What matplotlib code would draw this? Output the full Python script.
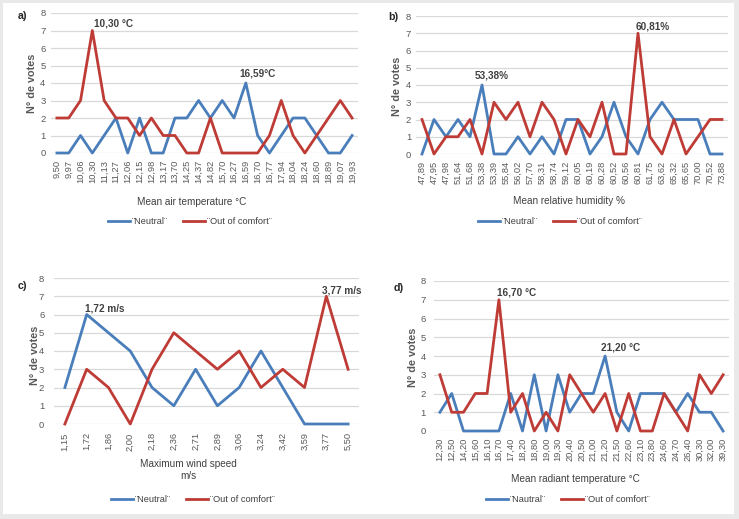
import matplotlib
matplotlib.use("Agg")
import matplotlib.pyplot as plt
from matplotlib import font_manager
from matplotlib.patches import Rectangle

names = {f.name for f in font_manager.fontManager.ttflist}
NARROW = 'Liberation Sans Narrow' if 'Liberation Sans Narrow' in names else 'Liberation Sans'
SC = 1.0 if NARROW == 'Liberation Sans Narrow' else 0.85
FAM = [NARROW, 'DejaVu Sans']

# ---------------- data ----------------
air_cats = ["9,50", "9,97", "10,06", "10,30", "11,13", "11,27", "12,06", "12,15", "12,98",
            "13,17", "13,70", "14,25", "14,37", "14,82", "15,70", "16,27", "16,59", "16,70",
            "16,77", "17,94", "18,04", "18,24", "18,60", "18,89", "19,07", "19,93"]
air_neutral = [0, 0, 1, 0, 1, 2, 0, 2, 0, 0, 2, 2, 3, 2, 3, 2, 4, 1, 0, 1, 2, 2, 1, 0, 0, 1]
air_out = [2, 2, 3, 7, 3, 2, 2, 1, 2, 1, 1, 0, 0, 2, 0, 0, 0, 0, 1, 3, 1, 0, 1, 2, 3, 2]

rh_cats = ["47,89", "47,95", "47,98", "51,64", "51,68", "53,38", "53,39", "55,84", "56,02",
           "57,70", "58,31", "58,74", "59,12", "60,05", "60,19", "60,28", "60,52", "60,56",
           "60,81", "61,75", "63,62", "65,32", "65,65", "70,00", "70,52", "73,88"]
rh_neutral = [0, 2, 1, 2, 1, 4, 0, 0, 1, 0, 1, 0, 2, 2, 0, 1, 3, 1, 0, 2, 3, 2, 2, 2, 0, 0]
rh_out = [2, 0, 1, 1, 2, 0, 3, 2, 3, 1, 3, 2, 0, 2, 1, 3, 0, 0, 7, 1, 0, 2, 0, 1, 2, 2]

wind_cats = ["1,15", "1,72", "1,86", "2,00", "2,18", "2,36", "2,71", "2,89", "3,06",
             "3,24", "3,42", "3,59", "3,77", "5,50"]
wind_neutral = [2, 6, 5, 4, 2, 1, 3, 1, 2, 4, 2, 0, 0, 0]
wind_out = [0, 3, 2, 0, 3, 5, 4, 3, 4, 2, 3, 2, 7, 3]

mrt_cats = ["12,30", "12,50", "14,20", "15,60", "16,10", "16,70", "17,40", "18,20", "18,80",
            "19,00", "19,30", "20,40", "20,50", "21,00", "21,20", "21,50", "22,60", "23,10",
            "23,80", "24,60", "24,70", "26,40", "30,30", "32,00", "39,30"]
mrt_neutral = [1, 2, 0, 0, 0, 0, 2, 0, 3, 0, 3, 1, 2, 2, 4, 1, 0, 2, 2, 2, 1, 2, 1, 1, 0]
mrt_out = [3, 1, 1, 2, 2, 7, 1, 2, 0, 1, 0, 3, 2, 1, 2, 0, 2, 0, 0, 2, 1, 0, 3, 2, 3]

BLUE = '#4A7EBB'
RED = '#BE3B36'
GRID = '#D9D9D9'
TXT = '#595959'
DARK = '#404040'

W, H = 739, 519
fig = plt.figure(figsize=(W / 100, H / 100), dpi=100, facecolor='#E9E9E9')
bg = Rectangle((3 / W, 1 - 514 / H), 731 / W, 511 / H,
               transform=fig.transFigure, facecolor='white',
               edgecolor='none', zorder=-10)
fig.patches.append(bg)


def add_ax(l, r, t, b):
    return fig.add_axes([l / W, 1 - b / H, (r - l) / W, (b - t) / H])


def ftext(x, y, s, **kw):
    fig.text(x / W, 1 - y / H, s, **kw)


panels = [
    dict(box=(51, 358, 13, 153), cats=air_cats, n=air_neutral, o=air_out,
         ylpad=4, xlpad=5, letter=("a)", 22, 16), ylab=(32, 83),
         title=("Mean air temperature °C", 192, 202), leg=(190, 222),
         neutral_label="¨Neutral¨",
         notes=[("10,30 °C", 'o', 3, 21, 7.5), ("16,59°C", 'n', 16, 12, 9)]),
    dict(box=(416, 728, 16, 154), cats=rh_cats, n=rh_neutral, o=rh_out,
         ylpad=3.5, xlpad=5, letter=("b)", 393, 17), ylab=(397, 86),
         title=("Mean relative humidity %", 569, 201), leg=(560, 222),
         neutral_label="¨Neutral¨",
         notes=[("53,38%", 'n', 5, 10, 10), ("60,81%", 'o', 18, 15, 7)]),
    dict(box=(54, 359, 278, 424), cats=wind_cats, n=wind_neutral, o=wind_out,
         ylpad=7, xlpad=6, letter=("c)", 22, 286), ylab=(35, 355),
         title=("Maximum wind speed\nm/s", 188, 470), leg=(193, 500),
         neutral_label="¨Neutral¨",
         notes=[("1,72 m/s", 'n', 1, 18, 6), ("3,77 m/s", 'o', 12, 15, 6)]),
    dict(box=(434, 729, 281, 431), cats=mrt_cats, n=mrt_neutral, o=mrt_out,
         ylpad=6, xlpad=5, letter=("d)", 399, 288), ylab=(413, 357),
         title=("Mean radiant temperature °C", 575, 479), leg=(568, 500),
         neutral_label="¨Nautral¨",
         notes=[("16,70 °C", 'o', 5, 18, 7), ("21,20 °C", 'n', 14, 15, 9)]),
]

for p in panels:
    ax = add_ax(*p['box'])
    ax.set_zorder(1)
    cats = p['cats']
    x = list(range(len(cats)))
    ln1, = ax.plot(x, p['n'], color=BLUE, lw=2.0, clip_on=False, zorder=3)
    ln2, = ax.plot(x, p['o'], color=RED, lw=2.0, clip_on=False, zorder=3)
    ax.set_xlim(-0.5, len(cats) - 0.5)
    ax.set_ylim(0, 8)
    ax.set_yticks(range(0, 9))
    ax.set_xticks(x)
    ax.set_xticklabels(cats, rotation=90, family=FAM, fontsize=7.8 * SC, color=TXT)
    for lab in ax.get_yticklabels():
        lab.set_family(FAM)
        lab.set_fontsize(8.0 * SC)
        lab.set_color(TXT)
    ax.tick_params(axis='y', length=0, pad=p['ylpad'])
    ax.tick_params(axis='x', length=0, pad=p['xlpad'])
    for s in ax.spines.values():
        s.set_visible(False)
    ax.grid(axis='y', color=GRID, lw=0.9)
    ax.set_axisbelow(True)
    ax.patch.set_visible(False)

    lt, lx, ly = p['letter']
    ftext(lx, ly, lt, ha='center', va='center', fontsize=9 * SC, weight='bold',
          color='#262626', family=FAM)
    ftext(p['ylab'][0], p['ylab'][1], "N° de votes", rotation=90, ha='center',
          va='center', fontsize=9.2 * SC, weight='bold', color=TXT, family=FAM)
    tt, tx, ty = p['title']
    ftext(tx, ty, tt, ha='center', va='center', fontsize=8.5 * SC, color=DARK,
          family=FAM, linespacing=1.15)
    ax.legend([ln1, ln2], [p['neutral_label'], "¨Out of comfort¨"], loc='center',
              bbox_to_anchor=(p['leg'][0] / W, 1 - p['leg'][1] / H),
              bbox_transform=fig.transFigure, ncol=2, frameon=False,
              handlelength=2.4, handletextpad=0.2, columnspacing=1.6,
              prop={'family': FAM, 'size': 7.8 * SC}, labelcolor=DARK)

    for txt, which, idx, dx, dy in p['notes']:
        vals = p['n'] if which == 'n' else p['o']
        ax.annotate(txt, xy=(idx, vals[idx]), xytext=(dx, dy),
                    textcoords='offset pixels', ha='center', va='center',
                    fontsize=8.5 * SC, weight='bold', color=DARK, family=FAM,
                    annotation_clip=False)

fig.savefig("out.png", dpi=100, facecolor=fig.get_facecolor())
